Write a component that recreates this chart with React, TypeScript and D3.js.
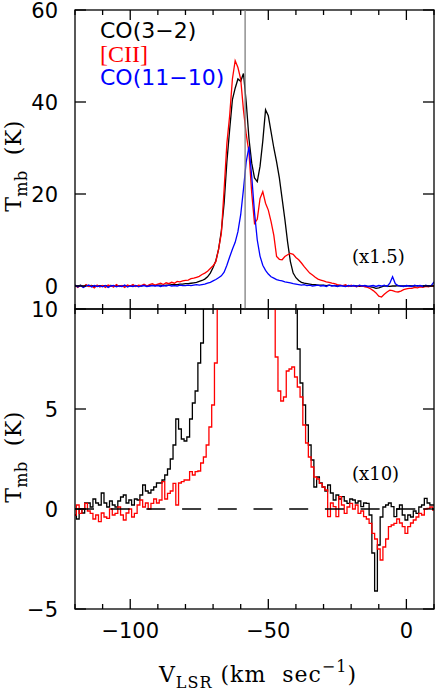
import * as d3 from "d3";
import { useEffect, useRef } from "react";

// channel velocities (km/s), one per channel
const VELOCITY = [
  -120, -119, -118, -117, -116, -115, -114, -113, -112, -111,
  -110, -109, -108, -107, -106, -105, -104, -103, -102, -101,
  -100, -99, -98, -97, -96, -95, -94, -93, -92, -91,
  -90, -89, -88, -87, -86, -85, -84, -83, -82, -81,
  -80, -79, -78, -77, -76, -75, -74, -73, -72, -71,
  -70, -69, -68, -67, -66, -65, -64, -63, -62, -61,
  -60, -59, -58, -57, -56, -55, -54, -53, -52, -51,
  -50, -49, -48, -47, -46, -45, -44, -43, -42, -41,
  -40, -39, -38, -37, -36, -35, -34, -33, -32, -31,
  -30, -29, -28, -27, -26, -25, -24, -23, -22, -21,
  -20, -19, -18, -17, -16, -15, -14, -13, -12, -11,
  -10, -9, -8, -7, -6, -5, -4, -3, -2, -1,
  0, 1, 2, 3, 4, 5, 6, 7, 8, 9, 10,
];

// top panel spectra (K)
const TOP_CO32 = [
  0.1, 0.0, 0.2, -0.1, 0.1, 0.0, 0.1, -0.1, 0.0, 0.1,
  0.0, 0.1, 0.0, 0.1, -0.1, 0.1, 0.0, 0.1, 0.0, 0.1,
  0.1, 0.0, 0.1, 0.1, 0.0, 0.2, 0.1, 0.1, 0.2, 0.1,
  0.2, 0.2, 0.1, 0.2, 0.2, 0.3, 0.3, 0.3, 0.4, 0.4,
  0.5, 0.5, 0.6, 0.7, 0.8, 1.0, 1.2, 1.5, 2.0, 2.8,
  4.0, 5.5, 8.0, 12.0, 18.0, 27.0, 34.0, 40.5, 43.0, 45.0,
  44.5, 46.2, 40.0, 32.0, 26.7, 23.5, 22.7, 26.0, 31.5, 38.3,
  37.0, 33.5, 30.0, 27.0, 23.5, 19.0, 14.5, 9.5, 5.3, 2.8,
  1.8, 1.2, 0.8, 0.6, 0.5, 0.4, 0.3, 0.3, 0.2, 0.2,
  0.2, 0.1, 0.2, 0.1, 0.1, 0.0, 0.1, 0.1, 0.0, 0.1,
  0.0, 0.1, 0.0, -0.1, 0.0, 0.0, -0.1, -0.2, -0.3, -0.5,
  -0.4, -0.2, 0.0, 0.0, -0.1, 0.0, 0.0, 0.1, 0.0, 0.0,
  0.0, 0.1, 0.0, 0.0, 0.1, 0.0, 0.0, 0.1, 0.0, 0.0, 0.1,
];

const TOP_CII = [
  0.2, -0.3, 0.1, -0.2, 0.3, -0.1, 0.0, -0.4, 0.2, -0.2,
  0.1, -0.3, 0.2, 0.0, -0.2, 0.3, -0.1, 0.1, -0.3, 0.2,
  0.0, 0.3, -0.1, 0.2, 0.1, 0.4, 0.0, 0.3, 0.5, 0.2,
  0.4, 0.6, 0.3, 0.7, 0.5, 0.8, 0.6, 1.0, 0.9, 1.1,
  1.2, 1.3, 1.6, 1.7, 1.9, 2.1, 2.5, 2.8, 3.2, 3.8,
  4.4, 5.3, 8.0, 11.5, 21.0, 31.0, 37.0, 45.0, 49.0, 47.5,
  45.0, 38.3, 33.0, 29.0, 20.2, 13.6, 14.5, 19.0, 20.5, 18.0,
  16.5, 14.0, 11.0, 6.4, 5.8, 5.7, 6.4, 6.8, 7.1, 6.9,
  6.2, 5.7, 5.0, 4.2, 3.5, 2.8, 2.4, 1.9, 1.5, 1.3,
  1.1, 0.9, 0.8, 0.6, 0.5, 0.3, 0.2, 0.1, 0.3, -0.1,
  0.2, 0.0, -0.2, 0.1, 0.0, -0.2, -0.3, -0.6, -1.0, -1.5,
  -2.2, -2.4, -1.8, -1.3, -0.9, -1.0, -1.2, -1.3, -1.1, -0.8,
  -0.6, -0.5, -0.5, -0.3, -0.4, -0.2, -0.3, -0.1, -0.2, 0.0, -0.1,
];

const TOP_CO1110 = [
  0.2, -0.2, 0.1, -0.3, 0.0, 0.2, -0.2, 0.1, -0.1, 0.0,
  -0.2, 0.1, -0.3, 0.0, 0.1, -0.2, 0.0, -0.1, 0.2, -0.2,
  0.0, -0.1, 0.1, -0.2, 0.0, 0.1, -0.1, 0.0, 0.1, 0.0,
  0.1, -0.1, 0.1, 0.0, 0.2, 0.0, 0.1, 0.0, 0.2, 0.1,
  0.1, 0.2, 0.1, 0.2, 0.3, 0.2, 0.3, 0.4, 0.6, 0.8,
  1.1, 1.4, 1.8, 2.2, 3.0, 4.5, 6.3, 8.0, 9.5, 11.8,
  15.5, 21.0, 27.0, 30.3, 23.8, 16.0, 10.0, 6.5, 4.5, 3.4,
  2.6, 2.0, 1.7, 1.4, 1.2, 1.1, 0.9, 0.8, 0.7, 0.5,
  0.4, 0.3, 0.2, 0.3, 0.1, 0.2, 0.0, 0.1, 0.2, 0.0,
  0.1, -0.1, 0.2, 0.0, 0.1, -0.1, 0.1, 0.0, -0.1, 0.1,
  0.0, 0.1, -0.1, 0.2, 0.0, 0.1, -0.1, 0.0, 0.1, -0.1,
  0.1, 0.0, 0.2, -0.1, 0.6, 2.0, 0.5, 0.1, 0.0, -0.1,
  0.1, 0.0, -0.1, 0.2, 0.0, 0.1, -0.1, 0.2, 0.0, 0.1, 0.9,
];

// bottom panel (wings), values above 10 K run off the panel
const BOTTOM_CO32 = [
  -0.3, -0.5, 0.0, -0.2, 0.3, 0.3, 0.1, 0.5, 0.3, 0.2,
  0.8, 0.3, 0.1, 0.4, 0.2, 0.1, 0.4, 0.6, 0.7, 0.3,
  0.45, 0.2, 0.5, 0.45, 0.7, 1.2, 0.9, 0.8, 0.95, 1.1,
  1.3, 1.3, 1.45, 1.7, 2.0, 2.5, 3.2, 4.5, 4.0, 3.5,
  3.4, 3.6, 4.5, 5.3, 5.9, 7.3, 8.3, 12.0, 15.0, 19.0,
  25, 30, 36, 42, 48, 52, 55, 57, 58, 58,
  58, 58, 56, 52, 48, 45, 45, 48, 52, 55,
  52, 46, 40, 34, 28, 24, 20, 17, 14, 12,
  10.5, 8.0, 6.3, 5.2, 4.2, 3.2, 2.45, 1.1, 1.6, 1.3,
  1.1, 0.9, 1.2, 0.8, 0.45, 0.7, 0.5, 0.62, 0.4, 0.28,
  0.5, 0.45, 0.3, 0.4, 0.12, 0.3, 0.28, -0.3, -2.2, -4.1,
  -1.8, -0.4, 0.1, 0.2, 0.3, 0.12, -0.38, 0.0, 0.2, -0.3,
  -0.55, -0.3, -0.4, -0.1, -0.22, 0.1, 0.2, 0.53, 0.3, 0.2, 0.2,
];

const BOTTOM_CII = [
  -0.3, 0.2, -0.22, 0.0, 0.28, -0.1, -0.22, -0.5, -0.3, -0.63,
  -0.2, -0.4, -0.47, 0.0, -0.3, -0.22, 0.1, -0.3, -0.55, -0.2,
  0.0, -0.4, -0.22, 0.2, 0.45, 0.1, 0.3, 0.0, 0.28, 0.5,
  0.3, 0.45, 1.37, 0.5, 0.78, 0.9, 1.28, 0.2, 1.3, 1.37,
  1.45, 1.45, 1.87, 1.7, 1.87, 1.9, 2.3, 2.6, 3.2, 4.1,
  5.2, 7.3, 12, 18, 26, 34, 42, 48, 52, 54,
  52, 46, 40, 32, 26, 22, 24, 26, 24, 20,
  16, 13, 11, 7.6, 5.9, 5.4, 5.6, 6.9, 7.0, 7.1,
  6.6, 6.1, 5.6, 4.2, 3.3, 2.6, 2.1, 1.6, 1.5, 1.28,
  1.1, 0.95, -0.38, 0.3, 0.12, -0.38, 0.62, 0.2, -0.22, 0.1,
  0.28, 0.0, 0.2, -0.22, -0.1, -0.38, -0.5, -0.72, -1.22, -1.5,
  -2.0, -2.55, -1.9, -1.5, -0.88, -0.8, -0.72, -0.5, -0.7, -0.88,
  -1.22, -0.88, -0.7, -0.55, -0.4, -0.22, -0.3, 0.0, 0.03, 0.1, -0.05,
];

const TOP_Y_TICKS = [0, 20, 40, 60];
const TOP_Y_LABELS = ["0", "20", "40", "60"];
const BOTTOM_Y_TICKS = [-5, 0, 5, 10];
const BOTTOM_Y_LABELS = ["\u22125", "0", "5", "10"];
const X_LABEL_TICKS = [-100, -50, 0];
const X_LABELS = ["\u2212100", "\u221250", "0"];
const LEGEND = ["CO(3\u22122)", "[CII]", "CO(11\u221210)"];
const COLORS = ["#000000", "#ff0000", "#0000ff"];
const V_MARK = -58.4;

const SANS = "'DejaVu Sans', sans-serif";
const SERIF = "'DejaVu Serif', serif";

function App() {
  const ref = useRef<SVGSVGElement>(null);
  const width = 436;
  const height = 694;

  useEffect(() => {
    const svg = d3.select(ref.current);
    svg.selectAll("*").remove();

    const left = 75;
    const right = 434;
    const x = d3.scaleLinear().domain([-120, 10]).range([left, right]);
    const yTop = d3.scaleLinear().domain([-5, 60]).range([309, 10]);
    const yBot = d3.scaleLinear().domain([-5, 10]).range([609, 309]);

    svg.append("rect").attr("width", width).attr("height", height).attr("fill", "#fff");

    const defs = svg.append("defs");

    const panel = (
      id: string,
      y: d3.ScaleLinear<number, number>,
      series: number[][],
      colors: string[],
      yTicks: number[],
      yLabels: string[],
      curve: d3.CurveFactory,
      titleY: number
    ) => {
      const [y0, y1] = y.range(); // bottom, top
      defs
        .append("clipPath")
        .attr("id", id)
        .append("rect")
        .attr("x", left)
        .attr("y", y1)
        .attr("width", right - left)
        .attr("height", y0 - y1);

      const g = svg.append("g");
      const plot = g.append("g").attr("clip-path", `url(#${id})`);

      const line = d3
        .line<number>()
        .x((_, i) => x(VELOCITY[i]))
        .y((d) => y(d))
        .curve(curve);

      series.forEach((s, k) => {
        plot
          .append("path")
          .attr("d", line(s))
          .attr("fill", "none")
          .attr("stroke", colors[k])
          .attr("stroke-width", 1.3);
      });

      // frame
      g.append("rect")
        .attr("x", left)
        .attr("y", y1)
        .attr("width", right - left)
        .attr("height", y0 - y1)
        .attr("fill", "none")
        .attr("stroke", "#000")
        .attr("stroke-width", 1.3);

      // x ticks, inward on both edges
      x.ticks(13).forEach((v) => {
        const len = v % 50 === 0 ? 10 : 5;
        const px = x(v);
        g.append("line")
          .attr("x1", px).attr("x2", px)
          .attr("y1", y0).attr("y2", y0 - len)
          .attr("stroke", "#000").attr("stroke-width", 1.3);
        g.append("line")
          .attr("x1", px).attr("x2", px)
          .attr("y1", y1).attr("y2", y1 + len)
          .attr("stroke", "#000").attr("stroke-width", 1.3);
      });

      // y ticks + labels
      yTicks.forEach((t, i) => {
        const py = y(t);
        g.append("line")
          .attr("x1", left).attr("x2", left + 11)
          .attr("y1", py).attr("y2", py)
          .attr("stroke", "#000").attr("stroke-width", 1.3);
        g.append("line")
          .attr("x1", right).attr("x2", right - 11)
          .attr("y1", py).attr("y2", py)
          .attr("stroke", "#000").attr("stroke-width", 1.3);
        g.append("text")
          .attr("x", 58)
          .attr("y", py)
          .attr("dy", "0.36em")
          .attr("text-anchor", "end")
          .attr("font-family", SANS)
          .attr("font-size", 21)
          .text(yLabels[i]);
      });

      // y title
      const title = g
        .append("text")
        .attr("transform", `translate(21,${titleY}) rotate(-90)`)
        .attr("text-anchor", "middle")
        .attr("font-family", SERIF)
        .attr("font-size", 22)
        .attr("letter-spacing", 0.5);
      title.append("tspan").text("T");
      title.append("tspan").attr("dy", 6).attr("font-size", 16).text("mb");
      title.append("tspan").attr("dy", -6).text("\u00a0\u00a0(K)");

      return plot;
    };

    panel(
      "clip-top",
      yTop,
      [TOP_CO32, TOP_CII, TOP_CO1110],
      COLORS,
      TOP_Y_TICKS,
      TOP_Y_LABELS,
      d3.curveLinear,
      166
    );

    // vertical marker through the top panel
    svg.append("line")
      .attr("x1", x(V_MARK)).attr("x2", x(V_MARK))
      .attr("y1", yTop(60)).attr("y2", yTop(-5))
      .attr("stroke", "#7f7f7f").attr("stroke-width", 1.3);

    const bottomPlot = panel(
      "clip-bot",
      yBot,
      [BOTTOM_CO32, BOTTOM_CII],
      [COLORS[0], COLORS[1]],
      BOTTOM_Y_TICKS,
      BOTTOM_Y_LABELS,
      d3.curveStep,
      457
    );

    bottomPlot
      .append("line")
      .attr("x1", left).attr("x2", right)
      .attr("y1", yBot(0)).attr("y2", yBot(0))
      .attr("stroke", "#000").attr("stroke-width", 1.3)
      .attr("stroke-dasharray", "19 16.7");

    // legend
    const legendX = 100;
    const legendY = [38, 61.5, 85];
    LEGEND.forEach((label, i) => {
      svg.append("text")
        .attr("x", legendX)
        .attr("y", legendY[i])
        .attr("fill", COLORS[i])
        .attr("font-family", i === 1 ? "'Liberation Serif', serif" : SANS)
        .attr("font-size", i === 1 ? 24 : 22)
        .text(label);
    });

    svg.append("text")
      .attr("x", 352).attr("y", 263)
      .attr("font-family", SERIF).attr("font-size", 18)
      .text("(x1.5)");
    svg.append("text")
      .attr("x", 352).attr("y", 480)
      .attr("font-family", SERIF).attr("font-size", 18)
      .text("(x10)");

    // x tick labels
    X_LABEL_TICKS.forEach((v, i) => {
      svg.append("text")
        .attr("x", x(v))
        .attr("y", 638)
        .attr("text-anchor", "middle")
        .attr("font-family", SANS)
        .attr("font-size", 21)
        .text(X_LABELS[i]);
    });

    // x title
    const xt = svg.append("text")
      .attr("x", 258)
      .attr("y", 682)
      .attr("text-anchor", "middle")
      .attr("font-family", SERIF)
      .attr("font-size", 22)
      .attr("letter-spacing", 1);
    xt.append("tspan").text("V");
    xt.append("tspan").attr("dy", 6).attr("font-size", 16).text("LSR");
    xt.append("tspan").attr("dy", -6).text("\u00a0(km\u00a0\u00a0sec");
    xt.append("tspan").attr("dy", -10).attr("font-size", 16).text("\u22121");
    xt.append("tspan").attr("dy", 10).text(")");
  }, []);

  return (
    <svg
      ref={ref}
      width={width}
      height={height}
      style={{ position: "absolute", left: 0, top: 0 }}
    />
  );
}

export default App;
